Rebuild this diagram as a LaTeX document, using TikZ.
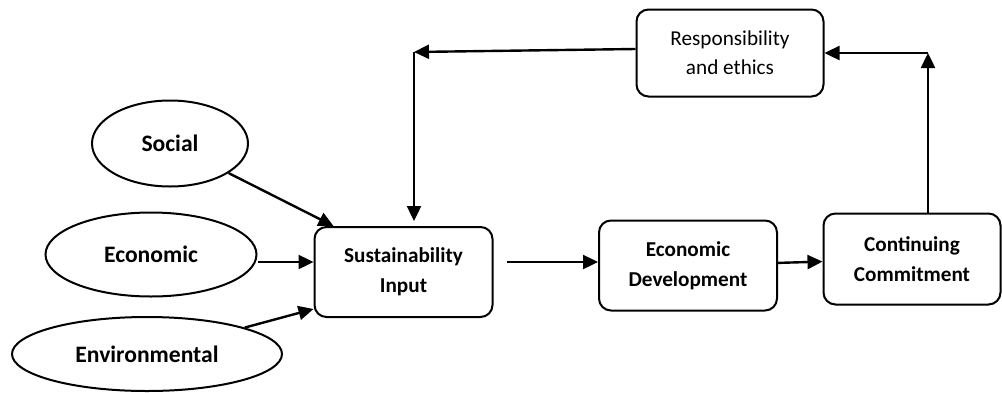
\documentclass[tikz,border=0pt]{standalone}
\usepackage{fontspec}
\setmainfont{Carlito}
\usepackage{tikz}
\usetikzlibrary{shapes.geometric, arrows.meta, calc}

\begin{document}
\begin{tikzpicture}[
    x=0.5pt, y=-0.5pt,
    oval/.style={ellipse, draw, line width=1pt, font=\fontsize{11.8}{14}\selectfont\bfseries, inner sep=0pt},
    stage/.style={rectangle, rounded corners=6pt, draw, line width=1pt, align=center,
        font=\fontsize{10.6}{14.8}\selectfont\bfseries, minimum width=89pt, minimum height=45pt},
    arr/.style={-{Triangle[length=7.5pt,width=7pt]}, line width=1.2pt},
    ]
    \useasboundingbox (0,0) rectangle (1002,392);

    \node[oval, minimum width=78pt, minimum height=43pt] (social) at (170,143.5) {Social};
    \node[oval, minimum width=105.5pt, minimum height=42pt] (economic) at (151,254.5) {Economic};
    \node[oval, minimum width=135pt, minimum height=37pt] (environmental) at (147,354) {Environmental};

    \node[stage] (si) at (403.5,272) {Sustainability\\Input};
    \node[stage] (ed) at (688,265.5) {Economic\\Development};
    \node[stage, minimum width=88.5pt, minimum height=45.5pt] (cc) at (912,259) {Continuing\\Commitment};
    \node[stage, font=\fontsize{10.6}{14.5}\selectfont, minimum width=93.5pt, minimum height=43.5pt] (resp) at (730,53) {Responsibility\\and ethics};

    \coordinate (ein) at ($(si.west)+(0,-10)$);
    \coordinate (sout) at ($(si.east)+(13,-10)$);
    \coordinate (up) at (928,53);
    \coordinate (back) at (414,52);

    \draw[arr] (social) -- ($(si.north west)+(20,0)$);
    \draw[arr] (economic.east |- ein) -- (ein);
    \draw[arr] (environmental) -- ($(si.south west)+(0,-9)$);
    \draw[arr] (sout) -- (ed.west |- sout);
    \draw[arr] (ed) -- (cc);
    \draw[arr] (cc.north -| up) -- (up);
    \draw[arr] (up) -- (resp.east);
    \draw[arr] ($(resp.west)+(0,-4)$) -- (back);
    \draw[arr, shorten >=2.5pt] (back) -- (back |- si.north);
\end{tikzpicture}
\end{document}
